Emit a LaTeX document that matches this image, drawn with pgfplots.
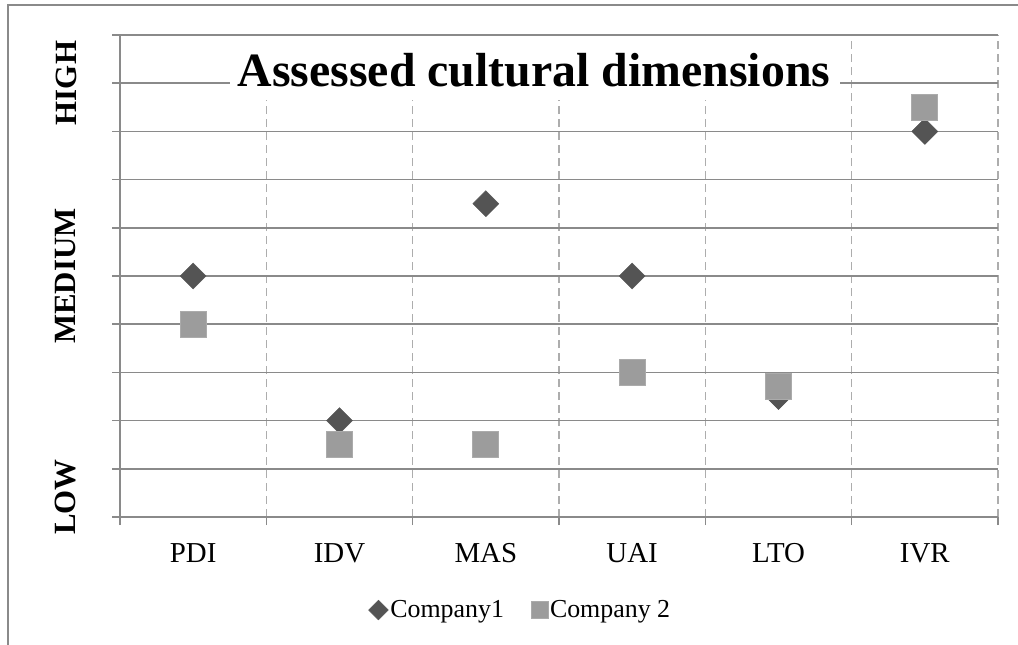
\documentclass[border=0pt]{standalone}
\usepackage{fontspec}
\setmainfont{Liberation Serif}
\usepackage{pgfplots}
\pgfplotsset{compat=1.18}
\definecolor{axgray}{HTML}{8A8A8A}
\definecolor{dashgray}{HTML}{ADADAD}
\definecolor{cone}{HTML}{545454}
\definecolor{ctwo}{HTML}{9C9C9C}
\begin{document}
\begin{tikzpicture}
\useasboundingbox (0bp,0bp) rectangle (1018bp,-645bp);
\draw[axgray, line width=2bp] (8bp,-645bp) -- (8bp,-5bp) -- (1018bp,-5bp);
\begin{axis}[
 at={(120bp,-517bp)}, anchor=south west,
 scale only axis, width=878bp, height=482bp,
 xmin=0, xmax=6, ymin=0, ymax=10,
 axis x line*=bottom, axis y line*=left,
 axis line style={axgray, line width=1.6bp, -},
 xtick={0.5,1.5,2.5,3.5,4.5,5.5},
 xticklabels={PDI,IDV,MAS,UAI,LTO,IVR},
 minor xtick={0,1,2,3,4,5,6},
 xminorgrids,
 minor grid style={dashgray, dash pattern=on 8bp off 5bp, line width=1.6bp},
 ytick={0,1,...,10}, yticklabels={},
 ymajorgrids, major grid style={axgray, line width=1.6bp},
 tick align=outside,
 major tick length=8bp, minor tick length=8bp,
 major x tick style={draw=none},
 minor x tick style={axgray, line width=1.6bp},
 ytick style={axgray, line width=1.6bp},
 xticklabel style={font=\fontsize{29}{34}\selectfont, text=black, yshift=-15bp},
 legend style={at={(0.456,-0.193)}, anchor=center, draw=none, fill=none,
   font=\fontsize{26}{30}\selectfont, legend columns=2,
   /tikz/every even column/.append style={column sep=25bp}},
 legend image code/.code={\draw[#1] plot coordinates {(0bp,0bp)};},
]
\addplot[only marks, mark=square*, mark size=9.2bp,
  mark options={rotate=45, fill=cone, draw=cone},
  legend image post style={mark size=7bp}]
  coordinates {(0.5,5) (1.5,2) (2.5,6.5) (3.5,5) (4.5,2.5) (5.5,8)};
\addlegendentry{Company1}
\addplot[only marks, mark=square*, mark size=13bp,
  mark options={fill=ctwo, draw=ctwo!85!white, line width=1bp},
  legend image post style={mark size=8.5bp}]
  coordinates {(0.5,4) (1.5,1.5) (2.5,1.5) (3.5,3) (4.5,2.7) (5.5,8.5)};
\addlegendentry{Company 2}
\end{axis}
\fill[white] (230bp,-37bp) rectangle (840bp,-100bp);
\node[anchor=base, font=\bfseries\fontsize{48}{56}\selectfont] at (534bp,-86bp) {Assessed cultural dimensions};
\node[rotate=90, font=\bfseries\fontsize{31}{36}\selectfont] at (66bp,-83bp) {HIGH};
\node[rotate=90, font=\bfseries\fontsize{31}{36}\selectfont] at (66bp,-276bp) {MEDIUM};
\node[rotate=90, font=\bfseries\fontsize{31}{36}\selectfont] at (66bp,-497bp) {LOW};
\end{tikzpicture}
\end{document}
